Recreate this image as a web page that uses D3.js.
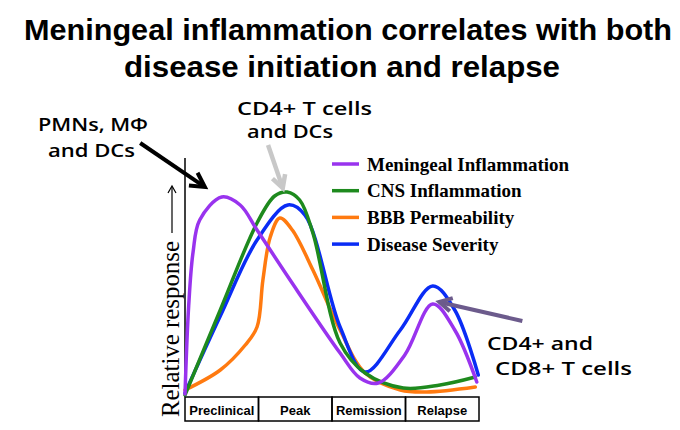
<!DOCTYPE html>
<html>
<head>
<meta charset="utf-8">
<script src="https://cdn.jsdelivr.net/npm/d3@7"></script>
<style>
  html, body { margin: 0; padding: 0; background: #fff; }
</style>
</head>
<body>
<svg id="chart"></svg>
<script>
// disease stages along the bottom
const stages = ["Preclinical", "Peak", "Remission", "Relapse"];

// series names for the legend
const seriesNames = ["Meningeal Inflammation", "CNS Inflammation", "BBB Permeability", "Disease Severity"];

// [stage position, relative response]
const meningeal = [[0, 0.01], [0.05, 0.45], [0.11, 0.72], [0.2, 0.88], [0.5, 0.995], [0.75, 0.955], [0.98, 0.83],
  [1.43, 0.58], [2.11, 0.215], [2.38, 0.09], [2.63, 0.065], [2.99, 0.205], [3.37, 0.46], [3.67, 0.33], [3.97, 0.07]];
const cns = [[0, 0.005], [0.48, 0.43], [0.98, 0.865], [1.22, 1.0], [1.39, 1.02], [1.56, 0.98], [1.74, 0.815],
  [2.11, 0.265], [2.45, 0.115], [2.97, 0.04], [3.47, 0.055], [3.95, 0.095]];
const bbb = [[0, 0.03], [0.48, 0.13], [0.82, 0.255], [0.98, 0.345], [1.06, 0.58], [1.16, 0.795], [1.29, 0.89],
  [1.46, 0.83], [1.74, 0.63], [2.11, 0.33], [2.45, 0.115], [2.93, 0.03], [3.29, 0.02], [3.95, 0.045]];
const severity = [[0, 0.015], [0.48, 0.4], [0.98, 0.78], [1.4, 0.955], [1.63, 0.905], [2.11, 0.345],
  [2.45, 0.12], [2.93, 0.33], [3.37, 0.55], [3.67, 0.43], [3.99, 0.105]];

const seriesData = [meningeal, cns, bbb, severity];
const colors = ["#9933ee", "#1e8a1e", "#ff7a10", "#0a2cf5"];

const width = 680, height = 430;
const svg = d3.select("#chart").attr("width", width).attr("height", height);

const x = d3.scaleLinear().domain([0, 4]).range([185, 479]);
const y = d3.scaleLinear().domain([0, 1]).range([396, 196]);

// title
const title = svg.append("g")
    .attr("font-family", "Liberation Sans, Arial, sans-serif")
    .attr("font-weight", "bold")
    .attr("font-size", 30)
    .attr("text-anchor", "middle");
title.append("text").attr("x", 348).attr("y", 40)
    .attr("textLength", 648).attr("lengthAdjust", "spacingAndGlyphs")
    .text("Meningeal inflammation correlates with both");
title.append("text").attr("x", 342).attr("y", 77)
    .attr("textLength", 436).attr("lengthAdjust", "spacingAndGlyphs")
    .text("disease initiation and relapse");

// y axis line
svg.append("line")
    .attr("x1", x(0)).attr("x2", x(0))
    .attr("y1", 158).attr("y2", 397)
    .attr("stroke", "#000").attr("stroke-width", 1.5);

// stage boxes
const band = d3.scaleBand().domain(stages).range([x(0), x(4)]);
const boxes = svg.append("g");
boxes.selectAll("rect")
  .data(stages)
  .join("rect")
    .attr("x", d => band(d))
    .attr("y", 397)
    .attr("width", band.bandwidth())
    .attr("height", 24)
    .attr("fill", "none")
    .attr("stroke", "#000")
    .attr("stroke-width", 1.5);
boxes.selectAll("text")
  .data(stages)
  .join("text")
    .attr("x", d => band(d) + band.bandwidth() / 2)
    .attr("y", 415)
    .attr("text-anchor", "middle")
    .attr("font-family", "Liberation Sans, Arial, sans-serif")
    .attr("font-weight", "bold")
    .attr("font-size", 13)
    .text(d => d);

// y label
svg.append("text")
    .attr("transform", "translate(179,417) rotate(-90)")
    .attr("font-family", "Liberation Serif, Times New Roman, serif")
    .attr("font-size", 25)
    .attr("textLength", 176).attr("lengthAdjust", "spacingAndGlyphs")
    .text("Relative response");
svg.append("line")
    .attr("x1", 172).attr("x2", 172).attr("y1", 233).attr("y2", 187)
    .attr("stroke", "#000").attr("stroke-width", 1.2);
svg.append("path")
    .attr("d", "M168,193 L172,186 L176,193")
    .attr("fill", "none").attr("stroke", "#000").attr("stroke-width", 1.2);

// curves
const line = d3.line()
    .x(d => x(d[0]))
    .y(d => y(d[1]))
    .curve(d3.curveCatmullRom.alpha(0.5));

const drawOrder = [2, 3, 1, 0];
svg.append("g")
  .selectAll("path")
  .data(drawOrder)
  .join("path")
    .attr("d", i => line(seriesData[i]))
    .attr("fill", "none")
    .attr("stroke", i => colors[i])
    .attr("stroke-width", 3.5)
    .attr("stroke-linecap", "round");

// legend
const legend = svg.append("g");
seriesNames.forEach((name, i) => {
  const ly = 164 + i * 26.7;
  legend.append("line")
      .attr("x1", 332).attr("x2", 359)
      .attr("y1", ly).attr("y2", ly)
      .attr("stroke", colors[i]).attr("stroke-width", 3.5);
  legend.append("text")
      .attr("x", 367).attr("y", ly + 6.5)
      .attr("font-family", "Liberation Serif, Times New Roman, serif")
      .attr("font-weight", "bold")
      .attr("font-size", 19)
      .text(name);
});

// annotations
function arrow(x1, y1, x2, y2, color, w, head) {
  const a = Math.atan2(y2 - y1, x2 - x1);
  svg.append("line")
      .attr("x1", x1).attr("y1", y1).attr("x2", x2 - Math.cos(a) * 2).attr("y2", y2 - Math.sin(a) * 2)
      .attr("stroke", color).attr("stroke-width", w);
  const pts = [
    [x2 - head * Math.cos(a - 0.5), y2 - head * Math.sin(a - 0.5)],
    [x2, y2],
    [x2 - head * Math.cos(a + 0.5), y2 - head * Math.sin(a + 0.5)]
  ];
  svg.append("path")
      .attr("d", d3.line()(pts))
      .attr("fill", "none")
      .attr("stroke", color)
      .attr("stroke-width", w)
      .attr("stroke-linejoin", "miter");
}

arrow(x(-0.61), y(1.265), x(0.27), y(1.045), "#000", 4, 16);
arrow(x(1.13), y(1.255), x(1.33), y(1.04), "#c8c8c8", 4.5, 14);
arrow(x(4.59), y(0.375), x(3.46), y(0.47), "#6c5b8c", 4, 14);

const notes = svg.append("g")
    .attr("font-family", "Open Sans, DejaVu Sans, sans-serif")
    .attr("font-weight", 600)
    .attr("font-size", 18)
    .attr("fill", "#000");
const noteLines = [
  ["PMNs, M\u03A6", 38, 131, 110],
  ["and DCs", 48, 157, 87],
  ["CD4+ T cells", 237, 115, 135],
  ["and DCs", 247, 138, 86],
  ["CD4+ and", 487, 350, 106],
  ["CD8+ T cells", 495, 375, 137]
];
noteLines.forEach(([t, tx, ty, tl]) => {
  notes.append("text")
      .attr("x", tx).attr("y", ty)
      .attr("textLength", tl).attr("lengthAdjust", "spacingAndGlyphs")
      .text(t);
});
</script>
</body>
</html>
